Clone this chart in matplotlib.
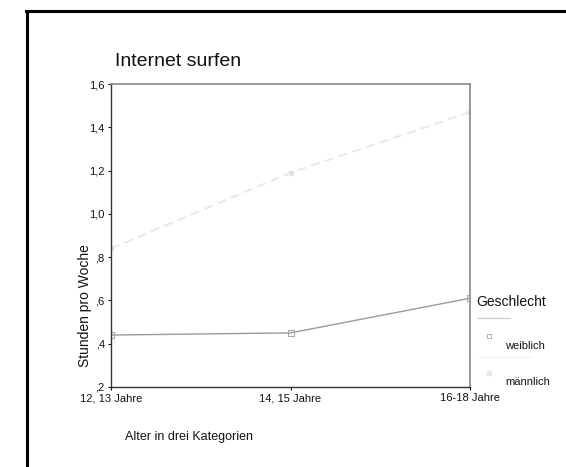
import matplotlib
matplotlib.use("Agg")
import matplotlib.pyplot as plt
from matplotlib.lines import Line2D

plt.rcParams['font.family'] = ['Liberation Sans', 'DejaVu Sans']

categories = ["12, 13 Jahre", "14, 15 Jahre", "16-18 Jahre"]
weiblich = [0.44, 0.45, 0.61]
maennlich = [0.84, 1.19, 1.47]
yticks = [0.2, 0.4, 0.6, 0.8, 1.0, 1.2, 1.4, 1.6]
ytick_labels = [",2", ",4", ",6", ",8", "1,0", "1,2", "1,4", "1,6"]

W, H = 566, 467
fig = plt.figure(figsize=(W / 100, H / 100), dpi=100)
fig.patch.set_facecolor("white")

def fx(px):
    return px / W

def fy(py):
    return 1 - py / H

# outer frame (left and top)
fig.add_artist(Line2D([fx(27), fx(27)], [fy(11), 0], color="black", lw=2.2))
fig.add_artist(Line2D([fx(26), 1], [fy(11), fy(11)], color="black", lw=2.2))

ax = fig.add_axes([fx(111), fy(387), fx(470) - fx(111), fy(84) - fy(387)])
x = list(range(len(categories)))
ax.plot(x, weiblich, color="#9a9a9a", lw=1.0, marker="s", ms=4, mfc="none", mec="#a8a8a8", mew=0.8)
ax.plot(x, maennlich, color="#e6e6e6", lw=1.3, ls=(0, (5, 3)), marker="s", ms=3.5, mfc="#e2e2e2", mec="#e2e2e2")

ax.set_xlim(0, 2)
ax.set_ylim(0.2, 1.6)
ax.set_xticks(x)
ax.set_xticklabels(categories, fontsize=8)
ax.set_yticks(yticks)
ax.set_yticklabels(ytick_labels, fontsize=8)
ax.tick_params(axis="both", direction="out", length=2.5, width=0.8, pad=2, colors="#111111")
for s in ["left", "bottom"]:
    ax.spines[s].set_color("#333333")
    ax.spines[s].set_linewidth(1.0)
for s in ["top", "right"]:
    ax.spines[s].set_color("#888888")
    ax.spines[s].set_linewidth(1.2)

fig.text(fx(115), fy(62), "Internet surfen", fontsize=14, color="#111111", va="center", ha="left")
fig.text(fx(85), fy(306), "Stunden pro Woche", fontsize=10, rotation=90, va="center", ha="center", color="#111111")
fig.text(fx(125), fy(437), "Alter in drei Kategorien", fontsize=9, va="center", ha="left", color="#111111")

# legend
fig.text(fx(476), fy(302), "Geschlecht", fontsize=10, va="center", ha="left", color="#111111")
fig.add_artist(Line2D([fx(478), fx(510)], [fy(318), fy(318)], color="#c8c8c8", lw=0.8))
fig.add_artist(Line2D([fx(489)], [fy(336)], marker="s", ms=3.5, mfc="none", mec="#b0b0b0", mew=0.7, ls="none"))
fig.text(fx(505), fy(346), "weiblich", fontsize=8, va="center", ha="left", color="#111111")
fig.add_artist(Line2D([fx(478), fx(530)], [fy(357), fy(357)], color="#f0f0f0", lw=0.8))
fig.add_artist(Line2D([fx(489)], [fy(373)], marker="s", ms=3.5, mfc="#e6e6e6", mec="#e6e6e6", ls="none"))
fig.text(fx(505), fy(382), "männlich", fontsize=8, va="center", ha="left", color="#111111")

fig.savefig("out.png", dpi=100, facecolor="white")
